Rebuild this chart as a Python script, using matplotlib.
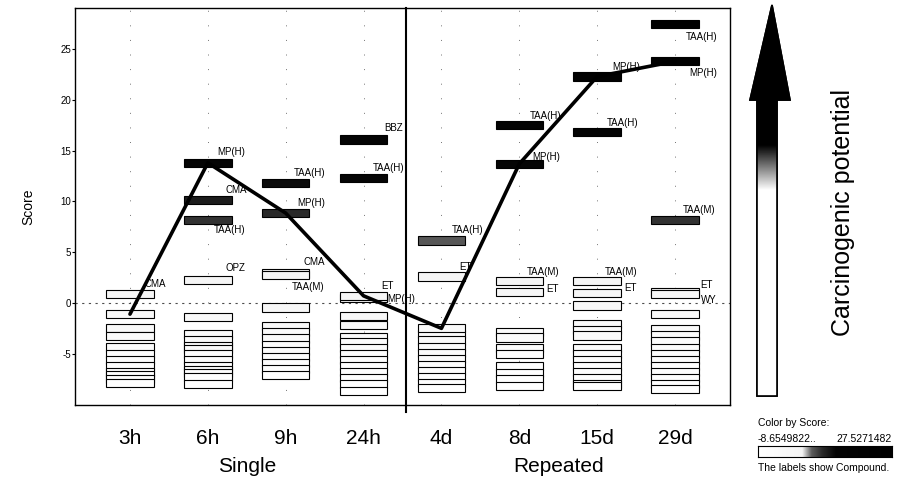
import numpy as np
import matplotlib
matplotlib.use('Agg')
import matplotlib.pyplot as plt
from matplotlib.colors import LinearSegmentedColormap, Normalize
from matplotlib.patches import Polygon

plt.rcParams['font.family'] = ['Liberation Sans', 'DejaVu Sans']
plt.rcParams['axes.unicode_minus'] = False

# data
timepoints = ['3h', '6h', '9h', '24h', '4d', '8d', '15d', '29d']
groups = ['Single', 'Repeated']
group_centers = [1.5, 5.5]

# MP(H) trajectory (the joined line)
mp_scores = [-1.1, 13.8, 8.85, 0.7, -2.5, 13.7, 22.3, 23.8]

# other labelled compounds
lab_time = ['3h', '6h', '6h', '6h', '9h', '9h', '9h', '24h', '24h', '24h',
            '4d', '4d', '8d', '8d', '8d', '15d', '15d', '15d',
            '29d', '29d', '29d', '29d']
lab_compound = ['CMA', 'CMA', 'TAA(H)', 'OPZ', 'TAA(H)', 'CMA', 'TAA(M)',
                'BBZ', 'TAA(H)', 'ET', 'TAA(H)', 'ET', 'TAA(H)', 'TAA(M)', 'ET',
                'TAA(H)', 'TAA(M)', 'ET', 'TAA(H)', 'TAA(M)', 'ET', 'WY']
lab_score = [0.9, 10.1, 8.2, 2.3, 11.8, 2.9, 2.75, 16.1, 12.35, 0.45,
             6.15, 2.6, 17.5, 2.2, 1.1, 16.8, 2.15, 1.0,
             27.5, 8.2, 1.1, 0.9]

# unlabelled compounds per timepoint
other_scores = [
    [-2.45, -3.25, -4.3, -5.0, -5.6, -6.2, -6.8, -7.1, -7.5, -7.9],
    [-1.4, -3.1, -3.7, -4.2, -4.5, -5.0, -5.6, -6.2, -6.6, -6.9, -7.3, -8.0],
    [-0.45, -2.3, -2.9, -3.5, -4.1, -4.7, -5.3, -5.9, -6.5, -7.1],
    [-1.3, -2.2, -3.4, -3.9, -4.4, -5.0, -5.6, -6.2, -6.8, -7.4, -8.0, -8.65],
    [-3.1, -3.7, -4.3, -4.9, -5.5, -6.1, -6.7, -7.3, -7.9, -8.4],
    [-2.9, -3.4, -4.4, -5.0, -6.2, -6.9, -7.5, -8.2],
    [-0.25, -2.1, -2.7, -3.2, -4.4, -5.0, -5.6, -6.2, -6.8, -7.4, -8.0, -8.2],
    [-1.1, -2.6, -3.2, -3.8, -4.4, -5.0, -5.6, -6.2, -6.8, -7.4, -8.0, -8.5],
]

score_min, score_max = -8.6549822, 27.5271482

# label placement (offset from bar centre, x in columns, y in score)
lab_offset = [(0.19, 0.97), (0.23, 1.0), (0.08, -1.0), (0.23, 1.15),
              (0.10, 1.0), (0.23, 1.15), (0.08, -1.2),
              (0.27, 1.1), (0.12, 0.95), (0.23, 1.22),
              (0.13, 1.04), (0.23, 0.95),
              (0.13, 0.9), (0.10, 0.85), (0.35, 0.28),
              (0.13, 0.9), (0.10, 0.9), (0.35, 0.48),
              (0.14, -1.3), (0.10, 0.95), (0.33, 0.67), (0.33, -0.6)]
mp_offset = [None, (0.12, 1.06), (0.15, 1.0), (0.31, -0.3),
             None, (0.17, 0.67), (0.19, 0.9), (0.18, -1.15)]

bar_w = 0.61
bar_h = 0.8

cmap = LinearSegmentedColormap.from_list(
    'score', [(0, 'white'), (0.33, '#f4f4f4'), (0.40, '#5c5c5c'),
              (0.48, '#2a2a2a'), (0.58, '#050505'), (1, 'black')])
norm = Normalize(score_min, score_max)

fig = plt.figure(figsize=(9.03, 4.83), dpi=100)
ax = fig.add_axes([75 / 903, 1 - 405 / 483, 655 / 903, 397 / 483])

xpos = {t: i for i, t in enumerate(timepoints)}

# collect every bar
bx, by = [], []
for i, vals in enumerate(other_scores):
    bx += [i] * len(vals)
    by += vals
bx += [xpos[t] for t in lab_time]
by += lab_score
bx += list(range(len(timepoints)))
by += mp_scores
bx = np.array(bx, dtype=float)
by = np.array(by)

ax.axhline(0, color='0.3', lw=0.8, ls=(0, (2, 4)), zorder=1)
for i in range(len(timepoints)):
    ax.axvline(i, color='0.45', lw=0.7, ls=(0, (1, 14)), zorder=0)

ax.bar(bx, bar_h, width=bar_w, bottom=by - bar_h / 2,
       color=cmap(norm(by)), edgecolor='black', linewidth=0.8, zorder=2)

ax.plot(range(len(timepoints)), mp_scores, color='black', lw=2.6,
        solid_capstyle='round', zorder=4)

for t, c, s, (dx, dy) in zip(lab_time, lab_compound, lab_score, lab_offset):
    ax.text(xpos[t] + dx, s + dy, c, fontsize=7, ha='left', va='center', zorder=5)
for i, (s, off) in enumerate(zip(mp_scores, mp_offset)):
    if off is not None:
        ax.text(i + off[0], s + off[1], 'MP(H)', fontsize=7, ha='left',
                va='center', zorder=5)

ax.set_xlim(-0.706, 7.706)
ax.set_ylim(-10.05, 29.05)
ax.set_yticks(range(-5, 30, 5))
ax.tick_params(axis='y', labelsize=7, length=2, width=0.8, pad=1)
ax.set_xticks(range(len(timepoints)))
ax.set_xticklabels(timepoints, fontsize=15)
ax.tick_params(axis='x', length=0, pad=17)
ax.set_ylabel('Score', fontsize=10, labelpad=18)
for sp in ax.spines.values():
    sp.set_linewidth(1.0)

# divider between single and repeated dosing
ax.plot([3.55, 3.55], [-10.7, 29.05], color='black', lw=1.5, clip_on=False, zorder=6)

for g, gc in zip(groups, group_centers):
    ax.text(gc, -0.155, g, fontsize=15, ha='center', va='center',
            transform=ax.get_xaxis_transform())

# big gradient arrow on the right
ov = fig.add_axes([0, 0, 1, 1])
ov.set_xlim(0, 903)
ov.set_ylim(483, 0)
ov.axis('off')
arrow = Polygon([(757, 396), (777, 396), (777, 100), (790, 100), (772, 5),
                 (750, 100), (757, 100)], closed=True, fill=False,
                edgecolor='black', lw=1.2)
ov.add_patch(arrow)
rows = np.linspace(0, 400, 400)
shade = np.clip((rows - 145) / 45.0, 0, 1)
grad = np.tile(shade[:, None], (1, 10))
im = ov.imshow(grad, cmap='gray', vmin=0, vmax=1, extent=(745, 795, 400, 0),
               aspect='auto', origin='upper', zorder=1)
im.set_clip_path(arrow)
ov.add_patch(Polygon(arrow.get_xy(), closed=True, fill=False,
                     edgecolor='black', lw=1.2, zorder=2))

fig.text(843 / 903, 1 - 213 / 483, 'Carcinogenic potential', rotation=90,
         fontsize=18, ha='center', va='center')

# colour legend
fig.text(758 / 903, 1 - 423 / 483, 'Color by Score:', fontsize=7.5, va='center')
fig.text(758 / 903, 1 - 439 / 483, '-8.6549822..', fontsize=7.5, va='center')
fig.text(892 / 903, 1 - 439 / 483, '27.5271482', fontsize=7.5, va='center', ha='right')
cax = fig.add_axes([758 / 903, 1 - 457 / 483, 134 / 903, 11 / 483])
cax.imshow(np.linspace(0, 1, 256)[None, :], cmap=cmap, aspect='auto')
cax.set_xticks([])
cax.set_yticks([])
fig.text(758 / 903, 1 - 468 / 483, 'The labels show Compound.', fontsize=7.5, va='center')

fig.savefig('out.png', dpi=100)
